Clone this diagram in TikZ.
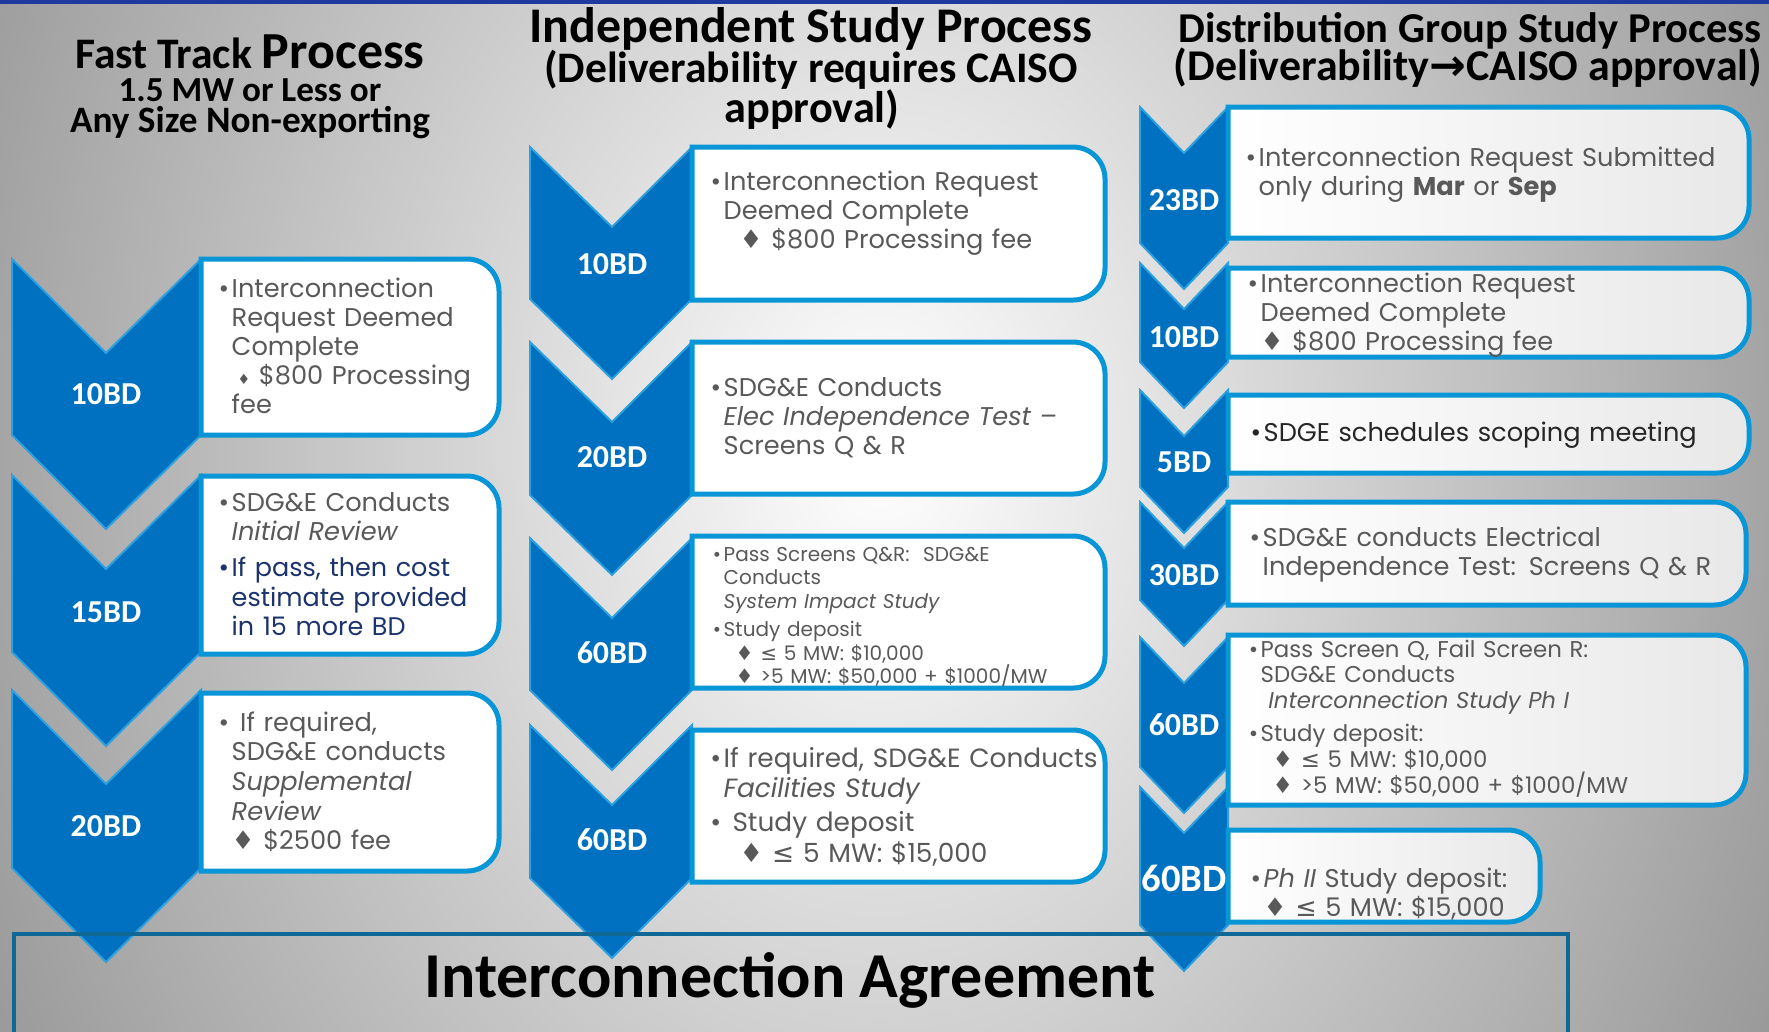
\documentclass[tikz,border=0pt]{standalone}
\usepackage{fontspec}
\setmainfont{Poppins}
\newfontfamily\headfont{Carlito}
\newfontfamily\dejavu{DejaVu Sans}
\usetikzlibrary{positioning,calc}

\definecolor{chevblue}{RGB}{0,112,192}
\definecolor{chevedge}{RGB}{45,160,222}
\definecolor{boxblue}{RGB}{8,150,214}
\definecolor{txtgray}{RGB}{89,89,89}
\definecolor{navy}{RGB}{28,52,110}
\definecolor{agreeline}{RGB}{16,104,150}
\definecolor{topline}{RGB}{28,58,160}

% bullet hanging left of the text, diamond and less-or-equal from DejaVu
\newcommand{\bul}{\leavevmode\llap{\textbullet\hspace{0.25mm}}}
\newcommand{\dia}{{\dejavu ♦}}
\newcommand{\lesym}{{\dejavu ≤}}
% text sizes (1px = 0.1mm)
\newcommand{\fsnorm}{\fontsize{7.3}{8.25}\selectfont}
\newcommand{\fsbig}{\fontsize{7.25}{8.4}\selectfont}
\newcommand{\fslarge}{\fontsize{7.5}{8.8}\selectfont}
\newcommand{\fsloose}{\fontsize{7.3}{8.45}\selectfont}
\newcommand{\fssmall}{\fontsize{5.7}{6.7}\selectfont}
\newcommand{\fsmid}{\fontsize{6.5}{7.35}\selectfont}
% chevron: left, centre, right, top, bottom, notch depth
\newcommand{\chev}[6]{\filldraw[chevron] (#1,#4) -- (#2,{#4+#6}) -- (#3,#4) -- (#3,#5) -- (#2,{#5+#6}) -- (#1,#5) -- cycle;}
% box with rounded right corners: left, top, right, bottom
\newcommand{\rbox}[5][]{\draw[boxline,#1] (#2,#3) -- ({#4-32},#3) arc[start angle=-90,end angle=0,radius=32] -- (#4,{#5-32}) arc[start angle=0,end angle=90,radius=32] -- (#2,#5) -- cycle;}

\begin{document}
\begin{tikzpicture}[x=0.1mm,y=-0.1mm,
    chevron/.style={fill=chevblue,draw=chevedge,line width=0.2mm},
    boxline/.style={draw=boxblue,fill=white,line width=0.5mm},
    bd/.style={font=\headfont\bfseries\fontsize{9.1}{9.1}\selectfont,text=white,inner sep=0},
    head/.style={anchor=base,inner sep=0,text depth=0pt},
    txt/.style={anchor=base west,inner sep=0,text=txtgray,align=left,text width=60mm,font=\fsnorm}]
        \useasboundingbox (0,0) rectangle (1769,1031);

        % Background
        \begin{scope}
            \clip (0,0) rectangle (1769,1031);
            \fill[black!40] (0,0) rectangle (1769,1031);
            \shade[inner color=white,outer color=black!40] (880,450) ellipse [x radius=1000,y radius=1300];
        \end{scope}
        \draw[topline,line width=0.35mm] (0,2) -- (1769,2);

        % Headings
        \node[head] (hl1) at (250,68) {\headfont\bfseries\fontsize{12.4}{12}\selectfont Fast Track {\fontsize{14.8}{15}\selectfont Process}};
        \node[head,font=\headfont\bfseries\fontsize{10}{10}\selectfont] (hl2) at (250,101) {1.5 MW or Less or};
        \node[head,font=\headfont\bfseries\fontsize{10.6}{10}\selectfont] (hl3) at (250,132) {Any Size Non-exporting};
        \node[head,font=\headfont\bfseries\fontsize{14.2}{15}\selectfont] (hm1) at (811,42) {Independent Study Process};
        \node[head,font=\headfont\bfseries\fontsize{12.4}{13}\selectfont] (hm2) at (811,82) {(Deliverability requires CAISO};
        \node[head,font=\headfont\bfseries\fontsize{12.6}{13}\selectfont] (hm3) at (812,122) {approval)};
        \node[head,font=\headfont\bfseries\fontsize{12.1}{13}\selectfont] (hr1) at (1470,42) {Distribution Group Study Process};
        \node[head,font=\headfont\bfseries\fontsize{12.5}{13}\selectfont] (hr2) at (1468,80) {(Deliverability{\dejavu →}CAISO approval)};

        % Left side chevrons
        \chev{12}{106}{201}{259}{435}{94}
        \chev{12}{106}{201}{475}{652}{94}
        \chev{12}{106}{201}{690}{868}{94}
        \node[bd] (lbd1) at (106,394) {10BD};
        \node[bd] (lbd2) at (106,612) {15BD};
        \node[bd] (lbd3) at (106,826) {20BD};

        % Middle chevrons
        \chev{530}{612}{692}{147}{299}{80}
        \chev{530}{612}{692}{342}{495}{80}
        \chev{530}{612}{692}{538}{690}{80}
        \chev{530}{612}{692}{725}{878}{80}
        \node[bd] (mbd1) at (612,264) {10BD};
        \node[bd] (mbd2) at (612,457) {20BD};
        \node[bd] (mbd3) at (612,653) {60BD};
        \node[bd] (mbd4) at (612,840) {60BD};

        % Right side chevrons
        \chev{1140}{1184}{1228}{107}{243}{46}
        \chev{1140}{1184}{1228}{263}{362}{46}
        \chev{1140}{1184}{1228}{390}{487}{46}
        \chev{1140}{1184}{1228}{502}{600}{46}
        \chev{1140}{1184}{1228}{637}{767}{46}
        \chev{1140}{1184}{1228}{787}{925}{46}
        \node[bd] (rbd1) at (1184,200) {23BD};
        \node[bd] (rbd2) at (1184,337) {10BD};
        \node[bd] (rbd3) at (1184,462) {5BD};
        \node[bd] (rbd4) at (1184,575) {30BD};
        \node[bd] (rbd5) at (1184,725) {60BD};
        \node[bd,font=\headfont\bfseries\fontsize{11}{11}\selectfont] (rbd6) at (1184,878) {60BD};

        % Left side boxes
        \rbox{201}{259}{499}{435}
        \rbox{201}{476}{499}{654}
        \rbox{201}{693}{499}{871}
        \node[txt] (tl1) at (231,297) {\bul Interconnection\\ Request Deemed\\ Complete\\ \hspace*{0.6mm}{\fontsize{4}{4}\selectfont\dia} \$800 Processing\\ fee};
        \node[txt] (tl2) at (231,511) {\bul SDG\&E Conducts\\ \textit{Initial Review}\\[0.7mm] {\color{navy}\fsbig\bul If pass, then cost\\ estimate provided\\ in 15 more BD}};
        \node[txt,font=\fsloose] (tl3) at (231,731) {\bul\ If required,\\ SDG\&E conducts\\ \textit{Supplemental}\\ \textit{Review}\\ \dia\ \$2500 fee};

        % Middle boxes
        \rbox{692}{147}{1105}{300}
        \rbox{692}{342}{1105}{494}
        \rbox{692}{536}{1105}{688}
        \rbox{692}{730}{1105}{882}
        \node[txt] (tm1) at (723,190) {\bul Interconnection Request\\ Deemed Complete\\ \hspace*{1.6mm}\dia\ \$800 Processing fee};
        \node[txt] (tm2) at (723,396) {\bul SDG\&E Conducts\\ \textit{Elec Independence Test –}\\ Screens Q \& R};
        \node[txt,font=\fssmall] (tm3) at (723,561) {\bul Pass Screens Q\&R:\ \ SDG\&E\\ Conducts\\ \textit{System Impact Study}\\[0.5mm] \bul Study deposit\\ \hspace*{1.2mm}\dia\ \lesym\ 5 MW: \$10,000\\ \hspace*{1.2mm}\dia\ >5 MW: \$50,000 + \$1000/MW};
        \node[txt,font=\fslarge] (tm4) at (723,767) {\bul If required, SDG\&E Conducts\\ \textit{Facilities Study}\\[0.3mm] \bul\ Study deposit\\ \hspace*{1.6mm}\dia\ \lesym\ 5 MW: \$15,000};

        % Right side boxes
        \rbox[left color=white,right color=black!9]{1228}{107}{1749}{238}
        \rbox[left color=white,right color=black!9]{1228}{268}{1749}{357}
        \rbox[left color=white,right color=black!9]{1228}{395}{1749}{473}
        \rbox[left color=white,right color=black!9]{1228}{502}{1746}{605}
        \rbox[left color=white,right color=black!9]{1228}{635}{1746}{805}
        \rbox[left color=white,right color=black!9]{1228}{830}{1540}{922}
        \node[txt] (tr1) at (1258,166) {\bul Interconnection Request Submitted\\ only during \textbf{Mar} or \textbf{Sep}};
        \node[txt] (tr2) at (1260,292) {\bul Interconnection Request\\ Deemed Complete\\ \dia\ \$800 Processing fee};
        \node[txt,text=black!85] (tr3) at (1263,441) {\bul SDGE schedules scoping meeting};
        \node[txt] (tr4) at (1262,546) {\bul SDG\&E conducts Electrical\\ Independence Test: Screens Q \& R};
        \node[txt,font=\fsmid] (tr5) at (1260,657) {\bul Pass Screen Q, Fail Screen R:\\ SDG\&E Conducts\\ \ \textit{Interconnection Study Ph I}\\[0.7mm] \bul Study deposit:\\ \hspace*{1.2mm}\dia\ \lesym\ 5 MW: \$10,000\\ \hspace*{1.2mm}\dia\ >5 MW: \$50,000 + \$1000/MW};
        \node[txt] (tr6) at (1263,887) {\bul\textit{Ph II} Study deposit:\\ \dia\ \lesym\ 5 MW: \$15,000};

        % Interconnection Agreement
        \draw[agreeline,line width=0.4mm] (14,1045) -- (14,934) -- (1568,934) -- (1568,1045);
        \node[head,font=\headfont\bfseries\fontsize{18.2}{19}\selectfont] (agree) at (790,997) {Interconnection Agreement};
\end{tikzpicture}
\end{document}
